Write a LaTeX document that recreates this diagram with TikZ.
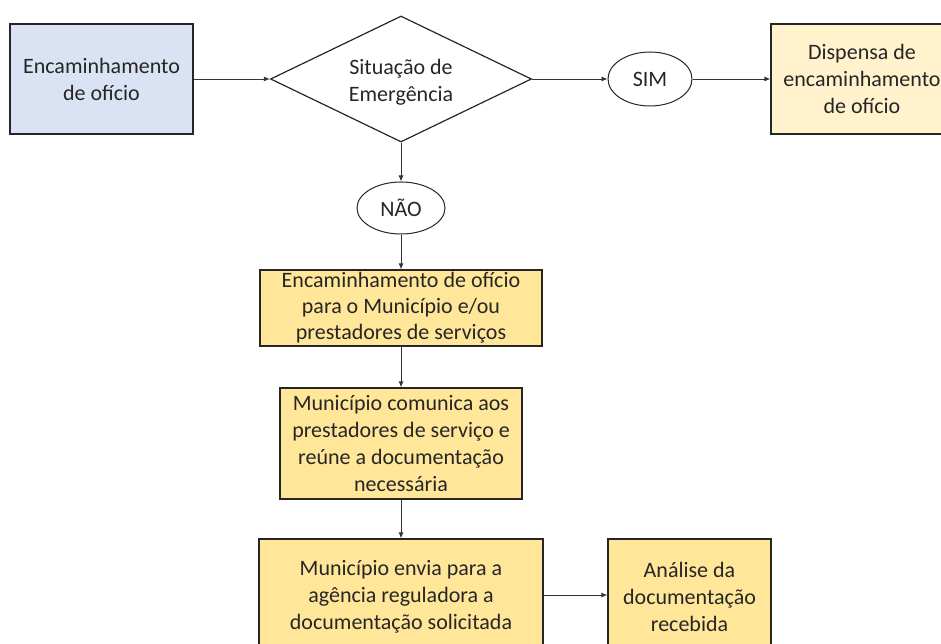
\documentclass[tikz,border=0pt]{standalone}
\usepackage{fontspec}
\setmainfont{Carlito}
\usetikzlibrary{shapes.geometric,arrows.meta}
\definecolor{azulclaro}{HTML}{DAE3F3}
\definecolor{creme}{HTML}{FFF2CC}
\definecolor{amarelo}{HTML}{FFE699}
\definecolor{texto}{HTML}{262626}
\begin{document}
\begin{tikzpicture}[x=1pt,y=-1pt,
    font=\fontsize{22pt}{27pt}\selectfont, text=texto,
    caixa/.style={draw=black!85, line width=1.2pt, align=center, inner sep=0pt},
    decisao/.style={draw=black!85, line width=1.2pt, diamond, aspect=2.07, inner sep=0pt,
      minimum width=261pt, minimum height=126pt, align=center},
    resposta/.style={draw=black!85, line width=1pt, ellipse, inner sep=0pt, align=center},
    seta/.style={-{Latex[length=6pt,width=5pt]}, line width=0.9pt, draw=black!80}]
  \path[use as bounding box, clip] (0,0) rectangle (941,644);
  \node[caixa, fill=azulclaro, minimum width=183pt, minimum height=110pt] (origem) at (101.5,79) {Encaminhamento\\de ofício};
  \node[decisao] (situacao) at (401,79) {\rule{0pt}{22pt}Situação de\\Emergência};
  \node[resposta, minimum width=84pt, minimum height=54pt] (sim) at (650,79) {SIM};
  \node[caixa, fill=creme, minimum width=182pt, minimum height=110pt] (dispensa) at (862,79) {Dispensa de\\encaminhamento\\de ofício};
  \node[resposta, minimum width=88pt, minimum height=52pt] (nao) at (401,208) {NÃO};
  \node[caixa, fill=amarelo, minimum width=282pt, minimum height=76pt] (envio) at (401,308) {Encaminhamento de ofício\\[-1pt]para o Município e/ou\\[-1pt]prestadores de serviços};
  \node[caixa, fill=amarelo, minimum width=242pt, minimum height=111pt] (comunica) at (401,443.5) {Município comunica aos\\prestadores de serviço e\\reúne a documentação\\necessária};
  \node[caixa, fill=amarelo, minimum width=284pt, minimum height=116pt] (envia) at (401,597) {Município envia para a\\agência reguladora a\\documentação solicitada};
  \node[caixa, fill=amarelo, minimum width=163pt, minimum height=116pt] (analise) at (689.5,597) {Análise da\\documentação\\recebida};
  \begin{scope}[seta]
    \draw (origem) to (situacao);
    \draw (situacao) to (sim);
    \draw (sim) to (dispensa);
    \draw (situacao) to (nao);
    \draw (nao) to (envio);
    \draw (envio) to (comunica);
    \draw (comunica) to (envia);
    \draw (envia.east |- 0,595) to (analise.west |- 0,595);
  \end{scope}
\end{tikzpicture}
\end{document}
